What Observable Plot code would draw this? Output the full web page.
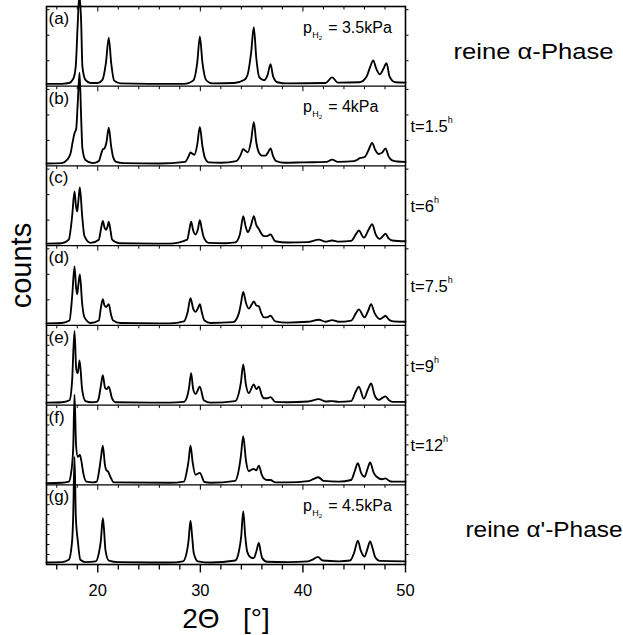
<!DOCTYPE html>
<html>
<head>
<meta charset="utf-8">
<script src="https://cdn.jsdelivr.net/npm/d3@7"></script>
<script src="https://cdn.jsdelivr.net/npm/@observablehq/plot@0.6"></script>
<style>
  html, body { margin: 0; padding: 0; background: #fff; }
  #chart svg { display: block; }
</style>
</head>
<body>
<div id="chart"></div>
<script>
// Panel annotations, top to bottom
const panelNames = ["(a)", "(b)", "(c)", "(d)", "(e)", "(f)", "(g)"];
const pressures = ["3.5", "4", null, null, null, null, "4.5"];      // p(H2) in kPa
const hours = [null, "1.5", "6", "7.5", "9", "12", null];            // reaction time t in h
const phases = ["reine α-Phase", null, null, null, null, null, "reine α'-Phase"];

// Axis ticks (2Θ in degrees)
const xTickLabels = [20, 30, 40, 50];
const xMinorTicks = [16, 18, 22, 24, 26, 28, 32, 34, 36, 38, 42, 44, 46, 48];

// Diffraction patterns: [2Θ, counts as fraction of panel height]
const patternA = [[15,0.03],[16.5,0.03],[17.2,0.04],[17.6,0.09],[17.85,0.25],[18.05,0.8],[18.2,1.15],[18.38,0.8],[18.5,0.25],[18.8,0.08],[19.3,0.04],[20.0,0.04],[20.45,0.08],[20.8,0.3],[21.07,0.61],[21.3,0.3],[21.6,0.07],[22.2,0.035],[25,0.03],[28.5,0.03],[29.3,0.07],[29.7,0.3],[29.95,0.625],[30.2,0.3],[30.6,0.07],[31.2,0.035],[33.3,0.04],[34.3,0.08],[34.6,0.14],[34.95,0.42],[35.21,0.74],[35.45,0.36],[35.75,0.11],[36.2,0.075],[36.55,0.14],[36.84,0.275],[37.1,0.12],[37.5,0.05],[38.5,0.035],[42.2,0.04],[42.85,0.11],[43.4,0.045],[45.5,0.05],[46.2,0.12],[46.55,0.24],[46.85,0.325],[47.15,0.22],[47.5,0.15],[47.85,0.22],[48.15,0.29],[48.45,0.12],[49.0,0.05],[50,0.045]];
const patternB = [[15,0.03],[16.5,0.035],[17.0,0.075],[17.35,0.16],[17.55,0.3],[17.73,0.41],[17.9,0.47],[18.05,0.8],[18.22,1.17],[18.38,0.6],[18.5,0.22],[18.8,0.075],[19.5,0.035],[20.1,0.06],[20.35,0.16],[20.5,0.21],[20.65,0.22],[20.85,0.3],[21.07,0.48],[21.3,0.25],[21.5,0.11],[21.8,0.05],[22.5,0.035],[26,0.03],[28.5,0.05],[28.85,0.12],[29.04,0.17],[29.25,0.15],[29.43,0.14],[29.7,0.27],[29.95,0.49],[30.2,0.25],[30.45,0.1],[30.8,0.045],[32,0.04],[33.5,0.06],[33.9,0.13],[34.18,0.21],[34.4,0.19],[34.63,0.17],[34.95,0.32],[35.21,0.55],[35.45,0.3],[35.7,0.17],[36.0,0.13],[36.35,0.13],[36.6,0.17],[36.84,0.22],[37.1,0.12],[37.4,0.06],[38.2,0.04],[40,0.045],[42.3,0.05],[42.85,0.08],[43.4,0.05],[45.0,0.06],[45.6,0.1],[46.0,0.11],[46.4,0.2],[46.75,0.29],[47.05,0.2],[47.4,0.15],[47.75,0.17],[48.05,0.22],[48.35,0.12],[48.7,0.07],[49.2,0.055],[50,0.05]];
const patternC = [[15,0.025],[16.5,0.03],[17.17,0.075],[17.5,0.37],[17.73,0.68],[17.87,0.5],[17.99,0.43],[18.1,0.55],[18.25,0.73],[18.48,0.37],[18.7,0.12],[19.3,0.035],[20.1,0.075],[20.3,0.2],[20.49,0.31],[20.65,0.23],[20.82,0.2],[20.95,0.24],[21.07,0.3],[21.25,0.18],[21.4,0.075],[22.1,0.03],[27,0.025],[28.72,0.075],[28.9,0.18],[29.1,0.3],[29.3,0.19],[29.53,0.14],[29.75,0.2],[29.95,0.32],[30.15,0.2],[30.34,0.1],[30.8,0.035],[32.5,0.03],[33.4,0.04],[33.85,0.14],[34.0,0.25],[34.18,0.37],[34.4,0.25],[34.63,0.17],[34.95,0.26],[35.21,0.37],[35.45,0.26],[35.7,0.21],[35.95,0.15],[36.19,0.12],[36.5,0.12],[36.84,0.14],[37.3,0.055],[38.5,0.04],[40.5,0.045],[41.55,0.075],[42.2,0.05],[42.85,0.065],[43.5,0.05],[44.7,0.06],[45.2,0.15],[45.45,0.19],[45.94,0.1],[46.4,0.2],[46.75,0.27],[47.1,0.14],[47.5,0.085],[47.8,0.12],[48.05,0.15],[48.35,0.09],[48.7,0.065],[50,0.055]];
const patternD = [[15,0.025],[16.5,0.03],[17.24,0.06],[17.5,0.36],[17.73,0.74],[17.88,0.48],[17.99,0.39],[18.1,0.5],[18.25,0.64],[18.48,0.27],[18.7,0.1],[19.3,0.03],[20.1,0.06],[20.3,0.22],[20.49,0.33],[20.65,0.25],[20.82,0.23],[20.95,0.25],[21.07,0.265],[21.3,0.13],[21.5,0.06],[22.2,0.03],[27,0.025],[28.4,0.05],[28.75,0.16],[29.04,0.34],[29.3,0.21],[29.53,0.17],[29.75,0.21],[29.95,0.265],[30.15,0.16],[30.4,0.06],[31,0.03],[33.2,0.04],[33.75,0.15],[33.95,0.27],[34.18,0.42],[34.45,0.28],[34.72,0.21],[35.0,0.26],[35.21,0.3],[35.45,0.25],[35.7,0.24],[35.95,0.15],[36.19,0.1],[36.5,0.1],[36.84,0.12],[37.3,0.05],[38.5,0.035],[40.5,0.045],[41.55,0.07],[42.2,0.045],[42.85,0.065],[43.5,0.045],[44.7,0.06],[45.2,0.16],[45.45,0.2],[46.0,0.1],[46.35,0.18],[46.65,0.265],[47.0,0.15],[47.5,0.08],[47.8,0.1],[48.05,0.12],[48.4,0.07],[48.8,0.05],[50,0.045]];
const patternE = [[15,0.03],[16.5,0.035],[17.24,0.06],[17.5,0.31],[17.73,0.93],[17.9,0.45],[18.05,0.4],[18.22,0.56],[18.48,0.19],[18.8,0.05],[19.4,0.035],[19.9,0.04],[20.1,0.09],[20.3,0.24],[20.49,0.375],[20.7,0.22],[20.85,0.2],[21.07,0.23],[21.4,0.08],[21.73,0.035],[27,0.03],[28.4,0.04],[28.72,0.11],[28.9,0.22],[29.1,0.4],[29.3,0.2],[29.53,0.14],[29.95,0.23],[30.34,0.06],[31,0.03],[33.4,0.05],[33.75,0.15],[33.95,0.28],[34.18,0.51],[34.45,0.25],[34.72,0.15],[35.21,0.26],[35.45,0.2],[35.7,0.23],[36.0,0.12],[36.19,0.085],[36.5,0.085],[36.84,0.1],[37.3,0.04],[38.5,0.035],[40.5,0.045],[41.55,0.075],[42.2,0.045],[42.85,0.05],[43.5,0.04],[44.7,0.05],[45.15,0.17],[45.45,0.23],[45.94,0.08],[46.35,0.2],[46.65,0.27],[47.0,0.12],[47.4,0.065],[47.75,0.09],[48.05,0.11],[48.4,0.06],[48.7,0.04],[50,0.04]];
const patternF = [[15,0.02],[16.5,0.025],[17.17,0.04],[17.4,0.15],[17.6,0.45],[17.73,1.13],[17.88,0.5],[18.05,0.35],[18.25,0.375],[18.4,0.3],[18.58,0.15],[18.9,0.04],[19.5,0.03],[19.9,0.04],[20.1,0.15],[20.3,0.33],[20.49,0.49],[20.7,0.25],[20.85,0.18],[20.98,0.17],[21.23,0.1],[21.56,0.03],[27,0.025],[28.4,0.04],[28.65,0.15],[28.85,0.3],[29.04,0.49],[29.25,0.28],[29.53,0.125],[29.95,0.15],[30.4,0.035],[31,0.025],[33.4,0.05],[33.75,0.19],[33.95,0.36],[34.18,0.61],[34.45,0.3],[34.72,0.17],[35.0,0.19],[35.21,0.2],[35.45,0.18],[35.7,0.24],[36.0,0.12],[36.19,0.08],[36.5,0.06],[36.84,0.06],[37.3,0.03],[38.5,0.03],[40.5,0.045],[41.0,0.07],[41.5,0.095],[42.0,0.05],[43.5,0.04],[44.7,0.06],[45.05,0.17],[45.35,0.27],[45.7,0.14],[46.0,0.1],[46.3,0.2],[46.55,0.28],[46.9,0.15],[47.25,0.095],[47.7,0.07],[48.05,0.08],[48.4,0.05],[48.7,0.04],[50,0.04]];
const patternG = [[15,0.025],[16.5,0.03],[17.17,0.06],[17.5,0.3],[17.6,0.6],[17.73,1.35],[17.86,0.6],[18.05,0.3],[18.3,0.06],[18.8,0.03],[19.8,0.04],[20.1,0.14],[20.3,0.3],[20.49,0.58],[20.6,0.45],[20.75,0.18],[21.07,0.05],[22,0.03],[27,0.025],[28.3,0.04],[28.65,0.14],[28.85,0.3],[29.04,0.55],[29.2,0.35],[29.36,0.14],[29.75,0.04],[31,0.025],[33.4,0.05],[33.75,0.16],[33.98,0.35],[34.18,0.67],[34.38,0.35],[34.57,0.16],[34.9,0.09],[35.21,0.08],[35.45,0.16],[35.7,0.27],[35.88,0.16],[36.03,0.08],[36.5,0.035],[38.5,0.03],[40.5,0.04],[41.0,0.065],[41.45,0.095],[41.9,0.05],[43.5,0.04],[44.6,0.05],[45.0,0.15],[45.35,0.3],[45.65,0.17],[46.0,0.1],[46.3,0.2],[46.55,0.29],[46.8,0.2],[47.05,0.09],[47.5,0.045],[50,0.04]];

const patterns = [patternA, patternB, patternC, patternD, patternE, patternF, patternG];

// ---- layout of the stacked panels ----
const nPanels = patterns.length;
const panelBase = i => nPanels - 1 - i;   // baseline of panel i (stacked y units)
const panelTop = i => nPanels - i;        // upper edge of panel i
const yTickStep = [0.32, 0.32, 0.32, 0.32, 0.125, 0.125, 0.125];

const traces = patterns.flatMap((p, i) => p.map(([t, c]) => ({panel: i, t, y: c + panelBase(i)})));

// small tick glyphs drawn as custom dot symbols
const tickDown = len => ({draw(ctx) { ctx.moveTo(0, 0); ctx.lineTo(0, len); }});
const tickRight = len => ({draw(ctx) { ctx.moveTo(0, 0); ctx.lineTo(len, 0); }});

const levels = d3.range(0, nPanels + 1);
const xMajorRows = levels.flatMap(l => xTickLabels.map(t => ({t, y: l, bottom: l === 0})));
const xMinorRows = levels.flatMap(l => xMinorTicks.map(t => ({t, y: l, bottom: l === 0})));
const yTickRows = patterns.flatMap((_, i) =>
  d3.range(1, 8).map(k => k * yTickStep[i]).filter(v => v < 0.97).map(v => panelBase(i) + v));

const idx = d3.range(nPanels);
const font = "'Liberation Sans', Arial, Helvetica, sans-serif";

const chart = Plot.plot({
  width: 623,
  height: 635,
  marginLeft: 46,
  marginRight: 218,
  marginTop: 6,
  marginBottom: 71,
  x: {domain: [15, 50], axis: null},
  y: {domain: [0, nPanels], axis: null},
  style: {fontFamily: font, color: "black", background: "white"},
  marks: [
    Plot.line(traces, {x: "t", y: "y", z: "panel", curve: "monotone-x", stroke: "black", strokeWidth: 1.85}),
    Plot.ruleY(d3.range(1, nPanels), {stroke: "black", strokeWidth: 1.3}),
    Plot.frame({stroke: "black", strokeWidth: 1.6}),

    // x ticks on every horizontal line, pointing down
    Plot.dot(xMajorRows.filter(d => d.bottom), {x: "t", y: "y", symbol: tickDown(8), stroke: "black", strokeWidth: 1.4}),
    Plot.dot(xMinorRows.filter(d => d.bottom), {x: "t", y: "y", symbol: tickDown(5), stroke: "black", strokeWidth: 1.3}),
    Plot.dot(xMajorRows.filter(d => !d.bottom), {x: "t", y: "y", symbol: tickDown(5), stroke: "black", strokeWidth: 1}),
    Plot.dot(xMinorRows.filter(d => !d.bottom), {x: "t", y: "y", symbol: tickDown(3), stroke: "black", strokeWidth: 1}),

    // y ticks: inward on the left edge, outward on the right edge
    Plot.dot(yTickRows, {x: () => 15, y: d => d, symbol: tickRight(3), stroke: "black", strokeWidth: 1}),
    Plot.dot(yTickRows, {x: () => 50, y: d => d, symbol: tickRight(3), stroke: "black", strokeWidth: 1}),

    // x tick labels and axis titles
    Plot.text(xTickLabels, {x: d => d, y: () => 0, dy: 26, text: d => String(d), fontSize: 16.5}),
    Plot.text(["2Θ\u00a0\u00a0\u00a0[°]"], {x: () => 32.5, y: () => 0, dy: 55, text: d => d, fontSize: 28}),
    Plot.text(["counts"], {x: () => 15, y: () => 3.75, dx: -25, rotate: -90, text: d => d, fontSize: 29}),

    // panel annotations
    Plot.text(idx, {x: () => 15, y: i => panelTop(i), dx: 2, dy: 12, text: i => panelNames[i], textAnchor: "start", fontSize: 17}),
    Plot.text(idx.filter(i => pressures[i]), {x: () => 40, y: i => panelTop(i), dy: 21, text: i => `pH2 = ${pressures[i]}kPa`, textAnchor: "start", fontSize: 16}),
    Plot.text(idx.filter(i => hours[i]), {x: () => 50, y: i => panelTop(i), dx: 5, dy: 41, text: i => `t=${hours[i]}h`, textAnchor: "start", fontSize: 16.5}),
    Plot.text(idx.filter(i => phases[i]), {x: () => 50, y: i => panelTop(i), dy: 45, text: i => phases[i], textAnchor: "start", fontSize: 22})
  ]
});

// typeset sub- and superscripts in the annotations
d3.select(chart).selectAll("text").each(function() {
  const s = this.textContent;
  let m;
  const el = d3.select(this);
  if ((m = s.match(/^pH2 = (.*)$/))) {
    el.text(null);
    el.append("tspan").text("p");
    el.append("tspan").attr("font-size", 9).attr("dy", 5).attr("dx", 0.5).text("H");
    el.append("tspan").attr("font-size", 6).attr("dy", 2).text("2");
    el.append("tspan").attr("font-size", 16).attr("dy", -7).attr("dx", 6).text("= " + m[1]);
  } else if ((m = s.match(/^t=(.*)h$/))) {
    el.text(null);
    el.append("tspan").text("t=" + m[1]);
    el.append("tspan").attr("font-size", 9).attr("dy", -9).text("h");
  } else if (s.startsWith("reine")) {
    const alt = s.includes("'");
    el.attr("dx", alt ? 60 : 48)
      .attr("textLength", alt ? 157 : 160)
      .attr("lengthAdjust", "spacingAndGlyphs");
  }
});

document.getElementById("chart").appendChild(chart);
</script>
</body>
</html>
